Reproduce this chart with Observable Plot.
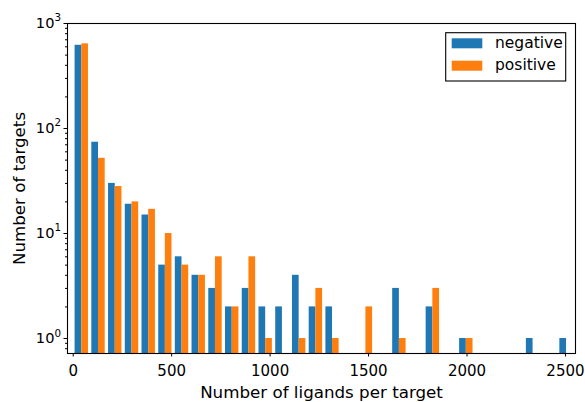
<!DOCTYPE html>
<html><head><meta charset="utf-8">
<script src="https://cdn.jsdelivr.net/npm/d3@7"></script>
<script src="https://cdn.jsdelivr.net/npm/@observablehq/plot@0.6"></script>
<style>
body{margin:0;background:#fff;font-family:"DejaVu Sans",sans-serif}
#chart{position:relative;width:585px;height:402px}
</style>
</head><body><div id="chart"></div>
<script>
// Histogram bin edges (Number of ligands per target)
const binEdges = [1, 86, 171, 256, 341, 426, 510, 595, 680, 765, 850, 935, 1020, 1105, 1190, 1275,
  1359, 1444, 1529, 1614, 1699, 1784, 1869, 1954, 2039, 2124, 2208, 2293, 2378, 2463, 2548];
// Counts per bin
const negative = [620, 74, 30, 19, 15, 5, 6, 4, 3, 2, 3, 2, 2, 4, 2, 2, 0, 0, 0, 3, 0, 2, 0, 1, 0, 0, 0, 1, 0, 1];
const positive = [640, 52, 28, 20, 17, 10, 5, 4, 6, 2, 6, 1, 0, 1, 3, 1, 0, 2, 0, 1, 0, 3, 0, 1, 0, 0, 0, 0, 0, 0];
const seriesNames = ["negative", "positive"];
const seriesColors = ["#1f77b4", "#ff7f0e"];
const xTicks = [0, 500, 1000, 1500, 2000, 2500];
const yMajorTicks = [1, 10, 100, 1000];
const xLabel = "Number of ligands per target";
const yLabel = "Number of targets";
const yDomain = [0.72, 1000];
const xDomain = [-29, 2551];

const seriesValues = [negative, positive];
const rows = [];
seriesValues.forEach((vals, s) => {
  vals.forEach((c, i) => {
    if (c <= 0) return;
    const w = binEdges[i + 1] - binEdges[i];
    const x1 = binEdges[i] + w * (0.1 + 0.4 * s);
    rows.push({x1, x2: x1 + 0.4 * w, count: c, series: seriesNames[s]});
  });
});
const yMinorTicks = [];
[0.1, 1, 10, 100].forEach(dec => { for (let k = 2; k <= 9; k++) { const v = dec * k; if (v >= yDomain[0] && v <= yDomain[1]) yMinorTicks.push(v); } });
const supChars = {"0": "⁰", "1": "¹", "2": "²", "3": "³"};
const fmtY = d => "10" + supChars[String(Math.round(Math.log10(d)))];

const chart = Plot.plot({
  width: 585, height: 402,
  marginLeft: 67, marginRight: 10, marginTop: 23, marginBottom: 49,
  style: {fontFamily: "DejaVu Sans", fontSize: "15px", color: "#000", background: "#fff"},
  x: {domain: xDomain},
  y: {type: "log", domain: yDomain},
  color: {domain: seriesNames, range: seriesColors},
  marks: [
    Plot.rectY(rows, {x1: "x1", x2: "x2", y1: yDomain[0], y2: "count", fill: "series", inset: 0}),
    Plot.frame({stroke: "#000", strokeWidth: 1.1}),
    Plot.axisX({ticks: xTicks, tickSize: 3.5, tickPadding: 8, tickFormat: d => String(d), fontSize: 15, label: null}),
    Plot.axisY({ticks: yMinorTicks, tickSize: 2, tickFormat: () => "", label: null}),
    Plot.axisY({ticks: yMajorTicks, tickSize: 3.5, tickPadding: 3, tickFormat: fmtY, fontSize: 14.6, label: null}),
    Plot.text([xLabel], {text: d => d, frameAnchor: "bottom", textAnchor: "middle", lineAnchor: "middle", dy: 39, fontSize: 16.7, fill: "#000"}),
    Plot.text([yLabel], {text: d => d, frameAnchor: "left", textAnchor: "middle", lineAnchor: "middle", rotate: -90, dx: -48, fontSize: 16.7, fill: "#000"})
  ]
});
const holder = document.getElementById("chart");
holder.appendChild(chart);

// mathtext-like superscripts for the log tick labels
d3.select(chart).selectAll("text").each(function () {
  const t = this.textContent;
  const m = /^10([⁰¹²³])$/.exec(t);
  if (!m) return;
  const exp = Object.keys(supChars).find(k => supChars[k] === m[1]);
  const sel = d3.select(this);
  sel.text("10");
  sel.append("tspan").attr("dy", "-6.7").attr("font-size", 10.3).text(exp);
});

// legend
const svg = d3.select(chart);
const lg = svg.append("g").attr("font-family", "DejaVu Sans").attr("font-size", 15.5).attr("text-anchor", "start");
lg.append("rect").attr("x", 445.7).attr("y", 32.7).attr("width", 120).attr("height", 48.3)
  .attr("fill", "#fff").attr("stroke", "#000").attr("stroke-width", 1.1);
seriesNames.forEach((name, i) => {
  lg.append("rect").attr("x", 451.7).attr("y", 38.3 + i * 22.4).attr("width", 30.6).attr("height", 10)
    .attr("fill", seriesColors[i]);
  lg.append("text").attr("x", 495).attr("y", 47.6 + i * 22.6).attr("fill", "#000")
    .attr("text-anchor", "start").text(name);
});
</script>
</body></html>
